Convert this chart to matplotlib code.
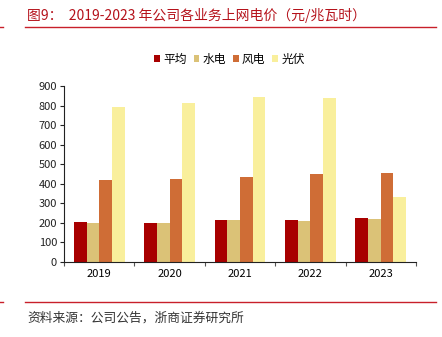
import matplotlib
matplotlib.use('Agg')
import matplotlib.pyplot as plt
from matplotlib.lines import Line2D
import numpy as np

plt.rcParams['font.family'] = ['Noto Sans CJK SC', 'DejaVu Sans']

years = ['2019', '2020', '2021', '2022', '2023']
series = ['平均', '水电', '风电', '光伏']
avg_price = [202, 200, 216, 213, 223]
hydro_price = [199, 199, 213, 211, 219]
wind_price = [418, 423, 435, 451, 454]
solar_price = [795, 815, 845, 836, 329]
colors = ['#A80000', '#DBC277', '#CF6D36', '#F9EF9C']

fig = plt.figure(figsize=(4.42, 3.37), dpi=100)
ax = fig.add_axes([0.1448, 0.2234, 0.7964, 0.5214])

x = np.arange(len(years))
w = 0.18
for i, vals in enumerate([avg_price, hydro_price, wind_price, solar_price]):
    ax.bar(x + (i - 1.5) * w, vals, w, color=colors[i], label=series[i], linewidth=0)

ax.set_xlim(-0.5, len(years) - 0.5)
ax.set_ylim(0, 900)
ax.set_yticks(np.arange(0, 901, 100))
ax.tick_params(axis='y', labelsize=8, length=3, width=0.8, pad=2, colors='#222222')

# group boundaries get the tick marks, year labels sit in between
ax.set_xticks(np.arange(-0.5, len(years), 1.0))
ax.set_xticklabels([])
ax.set_xticks(x, minor=True)
ax.set_xticklabels(years, minor=True, fontsize=8)
ax.tick_params(axis='x', which='major', length=3, width=0.8, color='#555555')
ax.tick_params(axis='x', which='minor', length=0, pad=5)

for s in ['top', 'right']:
    ax.spines[s].set_visible(False)
for s in ['left', 'bottom']:
    ax.spines[s].set_linewidth(0.8)
    ax.spines[s].set_color('#222222')

ax.legend(loc='center', bbox_to_anchor=(0.47, 1.153), ncol=4, frameon=False,
          fontsize=8.5, handlelength=0.5, handleheight=0.5, handletextpad=0.25,
          columnspacing=0.6, borderaxespad=0, borderpad=0)

red = '#C8202A'
fig.text(0.061, 0.955, '图9：  2019-2023 年公司各业务上网电价（元/兆瓦时）', color='#B5121B',
         fontsize=10, va='center', ha='left')
fig.add_artist(Line2D([0.057, 0.986], [0.92, 0.92], color=red, lw=1.0))
fig.add_artist(Line2D([0.0, 0.007], [0.92, 0.92], color=red, lw=1.0))
fig.add_artist(Line2D([0.057, 0.986], [0.104, 0.104], color=red, lw=1.0))
fig.add_artist(Line2D([0.0, 0.007], [0.104, 0.104], color=red, lw=1.0))
fig.text(0.061, 0.056, '资料来源：公司公告，浙商证券研究所', color='#333333',
         fontsize=9.2, va='center', ha='left')

plt.savefig('out.png', dpi=100)
